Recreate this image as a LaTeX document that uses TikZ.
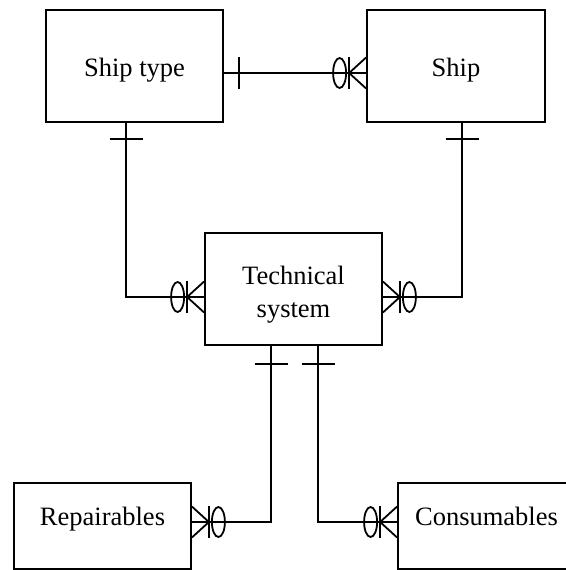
\documentclass[tikz,border=0pt]{standalone}
\usepackage{fontspec}
\setmainfont{Liberation Serif}
\usetikzlibrary{calc}

% crow's foot with an optional circle: #1 = point on the entity border,
% #2 = direction (degrees) pointing away from the entity along the link
\newcommand\zeromany[2]{%
  \begin{scope}[shift={(#1)}, rotate=#2]
    \draw[link] (17,0) -- (0,15.5) (17,0) -- (0,-15.5);
    \draw[link] (17,-16) -- (17,16);
    \draw[link] (26.5,0) ellipse [x radius=6.5, y radius=15];
  \end{scope}}

\tikzset{
  link/.style={line width=1.8pt, line cap=butt},
  entity/.style={draw, line width=1.8pt, inner sep=0pt,
                 minimum width=177pt, minimum height=112pt},
  lowentity/.style={entity, minimum height=86pt},
  etext/.style={anchor=base, inner sep=0pt,
                font=\fontsize{26.5}{33}\selectfont},
}

\begin{document}
\begin{tikzpicture}[x=1pt, y=-1pt]
  \useasboundingbox (0,0) rectangle (565,570);

  % entities
  \node[entity] (shiptype) at (134.5,66) {};
  \node[etext] (shiptypetxt) at (134.5,76) {Ship type};
  \node[entity, minimum width=178pt] (ship) at (456,66) {};
  \node[etext] (shiptxt) at (456,76) {Ship};
  \node[entity] (tech) at (293.5,289) {};
  \node[etext] (techtxta) at (293.5,284) {Technical};
  \node[etext] (techtxtb) at (293.5,317) {system};
  \node[lowentity] (rep) at (102.5,526) {};
  \node[etext] (reptxt) at (102.5,525) {Repairables};
  \node[lowentity] (cons) at (486.5,526) {};
  \node[etext] (constxt) at (486.5,525) {Consumables};

  % link end points
  \coordinate (st-e) at ($(shiptype.east)+(0,7)$);
  \coordinate (sh-w) at (ship.west |- st-e);
  \coordinate (st-s) at ($(shiptype.south)+(-8.5,0)$);
  \coordinate (sh-s) at ($(ship.south)+(6,0)$);
  \coordinate (te-w) at ($(tech.west)+(0,8)$);
  \coordinate (te-e) at ($(tech.east)+(0,8)$);
  \coordinate (te-sa) at ($(tech.south)+(-22.5,0)$);
  \coordinate (te-sb) at ($(tech.south)+(24.5,0)$);
  \coordinate (re-e) at ($(rep.east)+(0,-4)$);
  \coordinate (co-w) at ($(cons.west)+(0,-4)$);

  % Ship type -- Ship
  \draw[link] (st-e) -- (sh-w);
  \draw[link] ($(st-e)+(15,-16)$) -- ($(st-e)+(15,16)$);
  \zeromany{sh-w}{180}

  % Ship type -- Technical system
  \draw[link] (st-s) |- (te-w);
  \draw[link] ($(st-s)+(-16.5,16)$) -- ($(st-s)+(16.5,16)$);
  \zeromany{te-w}{180}

  % Ship -- Technical system
  \draw[link] (sh-s) |- (te-e);
  \draw[link] ($(sh-s)+(-16.5,16)$) -- ($(sh-s)+(16.5,16)$);
  \zeromany{te-e}{0}

  % Technical system -- Repairables
  \draw[link] (te-sa) |- (re-e);
  \draw[link] ($(te-sa)+(-16.5,18)$) -- ($(te-sa)+(16.5,18)$);
  \zeromany{re-e}{0}

  % Technical system -- Consumables
  \draw[link] (te-sb) |- (co-w);
  \draw[link] ($(te-sb)+(-16.5,18)$) -- ($(te-sb)+(16.5,18)$);
  \zeromany{co-w}{180}
\end{tikzpicture}
\end{document}
